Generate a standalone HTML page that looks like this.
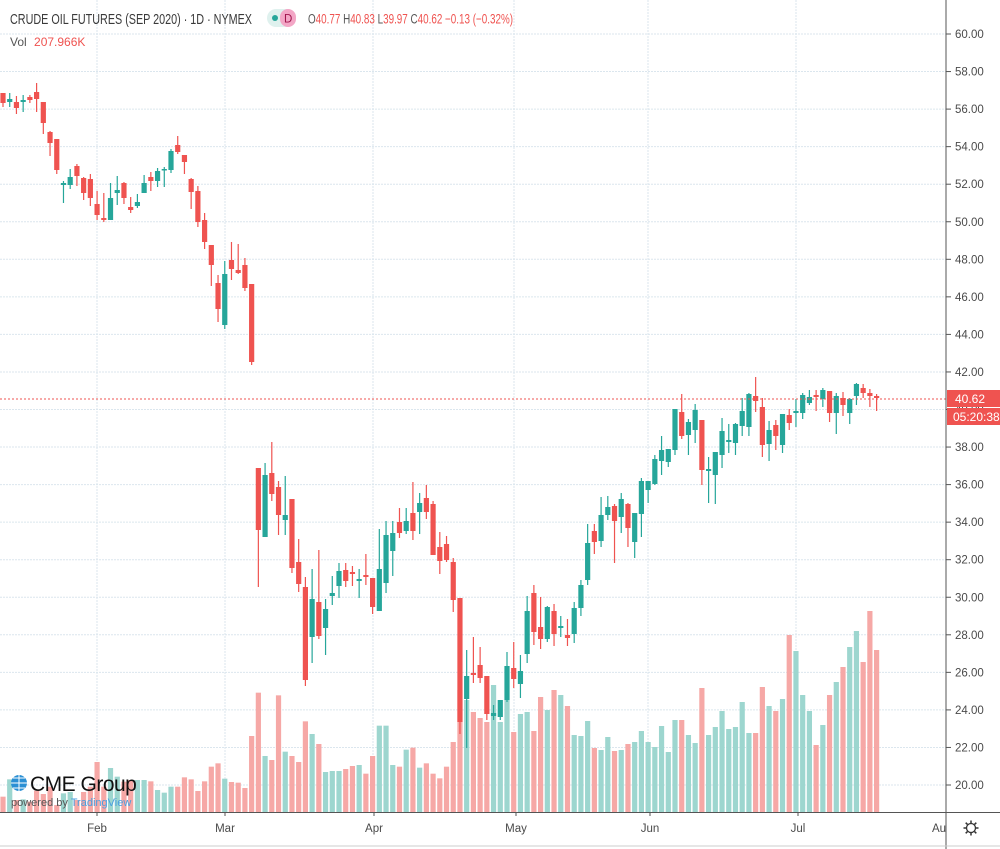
<!DOCTYPE html>
<html><head><meta charset="utf-8">
<style>
html,body{margin:0;padding:0;background:#fff;width:1000px;height:849px;overflow:hidden;font-family:"Liberation Sans",sans-serif;}
svg{position:absolute;left:0;top:0}
</style></head><body>
<svg id="s" width="1000" height="849" xmlns="http://www.w3.org/2000/svg" font-family="Liberation Sans, sans-serif">
</svg>
<script>
var s=document.getElementById('s');
var h='';
function y(p){return 34+(60-p)*18.775;}
for(var p=20;p<=60;p+=2){var yy=y(p);h+='<line x1="0" x2="946" y1="'+yy+'" y2="'+yy+'" stroke="#dbe6ee" stroke-dasharray="2,1"/>';
h+='<line x1="946" x2="951" y1="'+yy+'" y2="'+yy+'" stroke="#555"/>';
h+='<text x="955" y="'+(yy+4)+'" font-size="11.5" fill="#4a4a4a">'+p.toFixed(2)+'</text>';}
[97,225,373,514,648,796].forEach(function(x){h+='<line x1="'+x+'" x2="'+x+'" y1="0" y2="812" stroke="#dbe6ee" stroke-dasharray="2,1"/>';});
var V=[530,478,540,538,545,512,522,500,555,520,516,540,516,500,426,500,444,470,485,480,480,480,484,510,518,500,500,472,478,513,484,440,430,476,486,488,504,348,218,408,420,226,395,408,426,304,342,372,456,453,453,447,438,435,461,408,317,317,435,440,389,383,443,430,461,475,440,366];
var VV=V.map(function(v){return 620+v/3;});
VV=VV.concat([690,700,712,718,722,685,722,700,732,714,712,731,697,710,690,695,706,735,736,721,748,750,737,751,750,744,742,731,742,747,726,752,720,720,735,743,688,735,727,711,729,727,702,733,733,687,706,711,699,635,651,695,711,745,725,695,682,667,647,631,662,611,650]);
var C=[
[93,103,93,107,0],[99,102,93,107,1],[102,108,96,114,0],[100,102,95,112,1],[97,100,95,103,0],[92,99,83,112,0],[102,123,102,134,0],[132,143,131,156,0],[139,170,139,174,0],[183,185,181,203,1],
[177,185,169,189,1],[166,176,164,186,0],[178,193,177,200,0],[179,198,174,206,0],[204,215,191,220,0],[218,220,193,222,0],[198,220,183,220,1],[190,193,176,205,1],[183,198,182,204,0],[207,210,197,213,0],
[202,206,194,208,1],[183,193,175,193,1],[177,181,172,191,0],[171,181,168,187,1],[169,170,167,187,1],[151,170,149,173,1],[145,152,136,154,0],[155,162,155,174,0],[179,192,178,209,0],[191,222,186,227,0],
[220,242,213,249,0],[245,265,245,286,0],[283,309,275,322,0],[274,325,261,329,1],[260,269,242,280,0],[270,273,244,274,0],[265,288,258,291,0],[284,362,284,365,0],[468,530,468,587,0],[475,537,463,537,1],
[473,494,442,501,0],[487,515,481,535,0],[515,520,476,535,1],[499,568,499,573,0],[562,584,539,592,0],[587,680,577,686,0],[599,637,569,663,1],[602,636,550,639,0],[609,628,599,655,1],[593,596,576,605,1],
[571,586,563,598,1],[570,581,563,587,0],[572,574,566,586,0],[579,581,569,598,1],[575,577,554,585,0],[578,607,578,614,0],[569,611,529,611,1],[535,583,521,593,1],[533,551,521,576,1],[522,533,508,538,0],
[521,531,508,534,1],[513,531,482,540,0],[503,512,493,534,1],[498,512,485,519,0],[504,555,501,555,0],[547,561,532,574,0],[544,560,536,562,0],[562,600,558,612,0],[598,722,598,734,0],[676,699,650,748,1],
[673,675,637,683,0],[665,678,647,683,0],[676,714,676,720,0],[713,716,705,720,1],[700,717,700,720,1],[666,700,652,702,1],[668,679,642,688,0],[671,684,655,698,1],[611,654,596,663,1],[593,632,585,645,0],
[627,639,597,649,0],[607,639,606,642,1],[611,634,604,646,0],[626,628,616,637,1],[635,638,619,646,0],[608,634,602,643,1],[585,608,580,616,1],[543,580,524,585,1],[531,542,524,554,0],[515,541,497,547,1],
[507,515,496,520,1],[506,521,504,563,0],[499,517,493,533,1],[504,528,503,547,0],[513,542,513,558,1],[481,514,478,537,1],[481,490,481,503,1],[459,484,455,485,1],[450,461,436,475,1],[449,462,449,467,1],
[409,450,409,455,1],[412,436,394,439,0],[422,435,419,455,1],[410,430,404,443,1],[420,470,420,485,0],[469,471,457,503,1],[452,475,452,504,1],[431,455,418,468,1],[440,442,424,453,1],[424,443,423,455,1],
[411,426,398,436,1],[394,427,393,436,1],[396,401,377,412,0],[407,445,398,457,0],[430,444,421,461,1],[425,436,420,450,0],[414,445,414,453,1],[415,423,409,430,0],[411,413,399,427,1],[395,413,393,419,1],
[397,403,390,405,1],[395,397,390,411,0],[390,399,388,407,1],[391,413,391,422,0],[396,413,393,434,1],[398,405,392,416,0],[399,413,398,424,1],[384,396,383,405,1],[388,393,384,398,0],[393,396,389,407,0],
[396,398,394,411,0]];
for(var i=0;i<C.length;i++){var x=3+6.72*i;var t=VV[i]||790;var col=C[i][4]?'#9dd6cf':'#f6a8a6';
h+='<rect x="'+(x-2.6)+'" y="'+t+'" width="5.2" height="'+(812-t)+'" fill="'+col+'"/>';}
for(var i=0;i<C.length;i++){var x=3+6.72*i;var c=C[i];var col=c[4]?'#26a69a':'#ef5350';
h+='<line x1="'+x+'" x2="'+x+'" y1="'+c[2]+'" y2="'+c[3]+'" stroke="'+col+'" stroke-width="1.2"/>';
h+='<rect x="'+(x-2.6)+'" y="'+c[0]+'" width="5.2" height="'+Math.max(1.5,c[1]-c[0])+'" fill="'+col+'"/>';}
h+='<line x1="0" x2="946" y1="399" y2="399" stroke="#ef5350" stroke-dasharray="2,2"/>';
h+='<line x1="946" x2="946" y1="0" y2="849" stroke="#555"/>';
h+='<line x1="0" x2="1000" y1="812.5" y2="812.5" stroke="#555"/>';
h+='<line x1="0" x2="1000" y1="846" y2="846" stroke="#ccc"/>';
h+='<rect x="947" y="390" width="53" height="17" fill="#ef5350"/><text x="955" y="403" font-size="12" fill="#fff">40.62</text>';
h+='<rect x="947" y="408" width="53" height="17" fill="#ef5350"/><text x="953" y="421" font-size="12" fill="#fff">05:20:38</text>';
[[97,'Feb'],[225,'Mar'],[374,'Apr'],[516,'May'],[650,'Jun'],[798,'Jul']].forEach(function(a){
h+='<line x1="'+a[0]+'" x2="'+a[0]+'" y1="812" y2="816" stroke="#555"/><text x="'+a[0]+'" y="832" font-size="11.5" fill="#4a4a4a" text-anchor="middle">'+a[1]+'</text>';});
h+='<text x="932" y="832" font-size="11.5" fill="#4a4a4a">Au</text>';
h+='<circle cx="971" cy="828" r="4.5" fill="none" stroke="#333" stroke-width="1.3"/>';
for(var k=0;k<8;k++){var a=k*Math.PI/4;h+='<line x1="'+(971+5*Math.cos(a))+'" y1="'+(828+5*Math.sin(a))+'" x2="'+(971+7.5*Math.cos(a))+'" y2="'+(828+7.5*Math.sin(a))+'" stroke="#333" stroke-width="1.5"/>';}
h+='<text x="10" y="24" font-size="14.5" fill="#3a3a3a" textLength="242" lengthAdjust="spacingAndGlyphs">CRUDE OIL FUTURES (SEP 2020) · 1D · NYMEX</text>';
h+='<rect x="267" y="9" width="28" height="18" rx="9" fill="#dff1ee"/><circle cx="275" cy="18" r="3" fill="#26a69a"/>';
h+='<rect x="280" y="9" width="16" height="18" rx="8" fill="#f3a6c6"/><text x="284" y="22.5" font-size="11.5" fill="#a0154d">D</text>';
h+='<text x="308" y="23.5" font-size="13.5" fill="#555" textLength="205" lengthAdjust="spacingAndGlyphs">O<tspan fill="#ef5350">40.77</tspan> H<tspan fill="#ef5350">40.83</tspan> L<tspan fill="#ef5350">39.97</tspan> C<tspan fill="#ef5350">40.62 −0.13 (−0.32%)</tspan></text>';
h+='<text x="10" y="46" font-size="12" fill="#555">Vol <tspan dx="4" fill="#ef5350">207.966K</tspan></text>';
h+='<circle cx="19" cy="783" r="8" fill="#2a8fd4"/><path d="M11 783h16M19 775v16M13 778h12M13 788h12" stroke="#fff" stroke-width="1"/>';
h+='<text x="30" y="791" font-size="21" fill="#111" letter-spacing="-0.5">CME Group</text>';
h+='<text x="11" y="806" font-size="11" fill="#555">powered by <tspan fill="#4a9fe0">TradingView</tspan></text>';
s.innerHTML=h;
</script>
</body></html>
